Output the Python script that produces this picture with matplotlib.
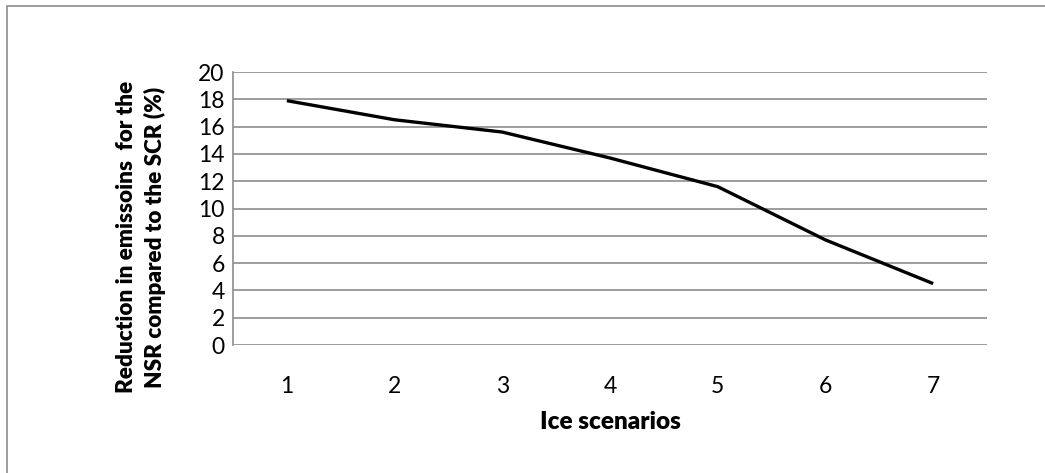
import matplotlib.pyplot as plt
from matplotlib.patches import Rectangle

# Ice scenarios and reduction values (%)
scenarios = [1, 2, 3, 4, 5, 6, 7]
reduction = [17.9, 16.5, 15.6, 13.7, 11.6, 7.7, 4.5]
yticks = list(range(0, 21, 2))

plt.rcParams['font.family'] = ['Lato', 'DejaVu Sans']

W, H = 1045, 473
fig = plt.figure(figsize=(W / 100, H / 100), dpi=100)

# plot area in pixel coords
left, right, top, bottom = 233, 987, 72, 345
ax = fig.add_axes([left / W, 1 - bottom / H, (right - left) / W, (bottom - top) / H])

grid_col = '#8c8c8c'
ax.plot(scenarios, reduction, color='black', linewidth=2.4, solid_capstyle='butt')
ax.set_xlim(0.5, 7.5)
ax.set_ylim(0, 20)
ax.set_xticks(scenarios)
ax.set_yticks(yticks)
ax.tick_params(axis='both', length=0, labelsize=16.5)
ax.tick_params(axis='x', pad=22)
ax.tick_params(axis='y', pad=6)
ax.yaxis.grid(True, color=grid_col, linewidth=1.2)
ax.set_axisbelow(True)
for s in ['top', 'right', 'bottom']:
    ax.spines[s].set_visible(False)
ax.spines['left'].set_color(grid_col)
ax.spines['left'].set_linewidth(1.2)

fig.text(610 / W, 1 - 422 / H, 'Ice scenarios', ha='center', va='center',
         fontsize=17.5, fontweight='heavy')
fig.text(141 / W, 1 - 237 / H, 'Reduction in emissoins  for the\nNSR compared to the SCR (%)',
         ha='center', va='center', rotation=90, fontsize=16.2, fontweight='heavy',
         linespacing=1.4)

# outer chart border
fig.patches.append(Rectangle((7 / W, -0.1), 1.2, 1 - 6 / H + 0.1, transform=fig.transFigure,
                             fill=False, edgecolor='#8c8c8c', linewidth=1.2))

fig.savefig('out.png', dpi=100)
